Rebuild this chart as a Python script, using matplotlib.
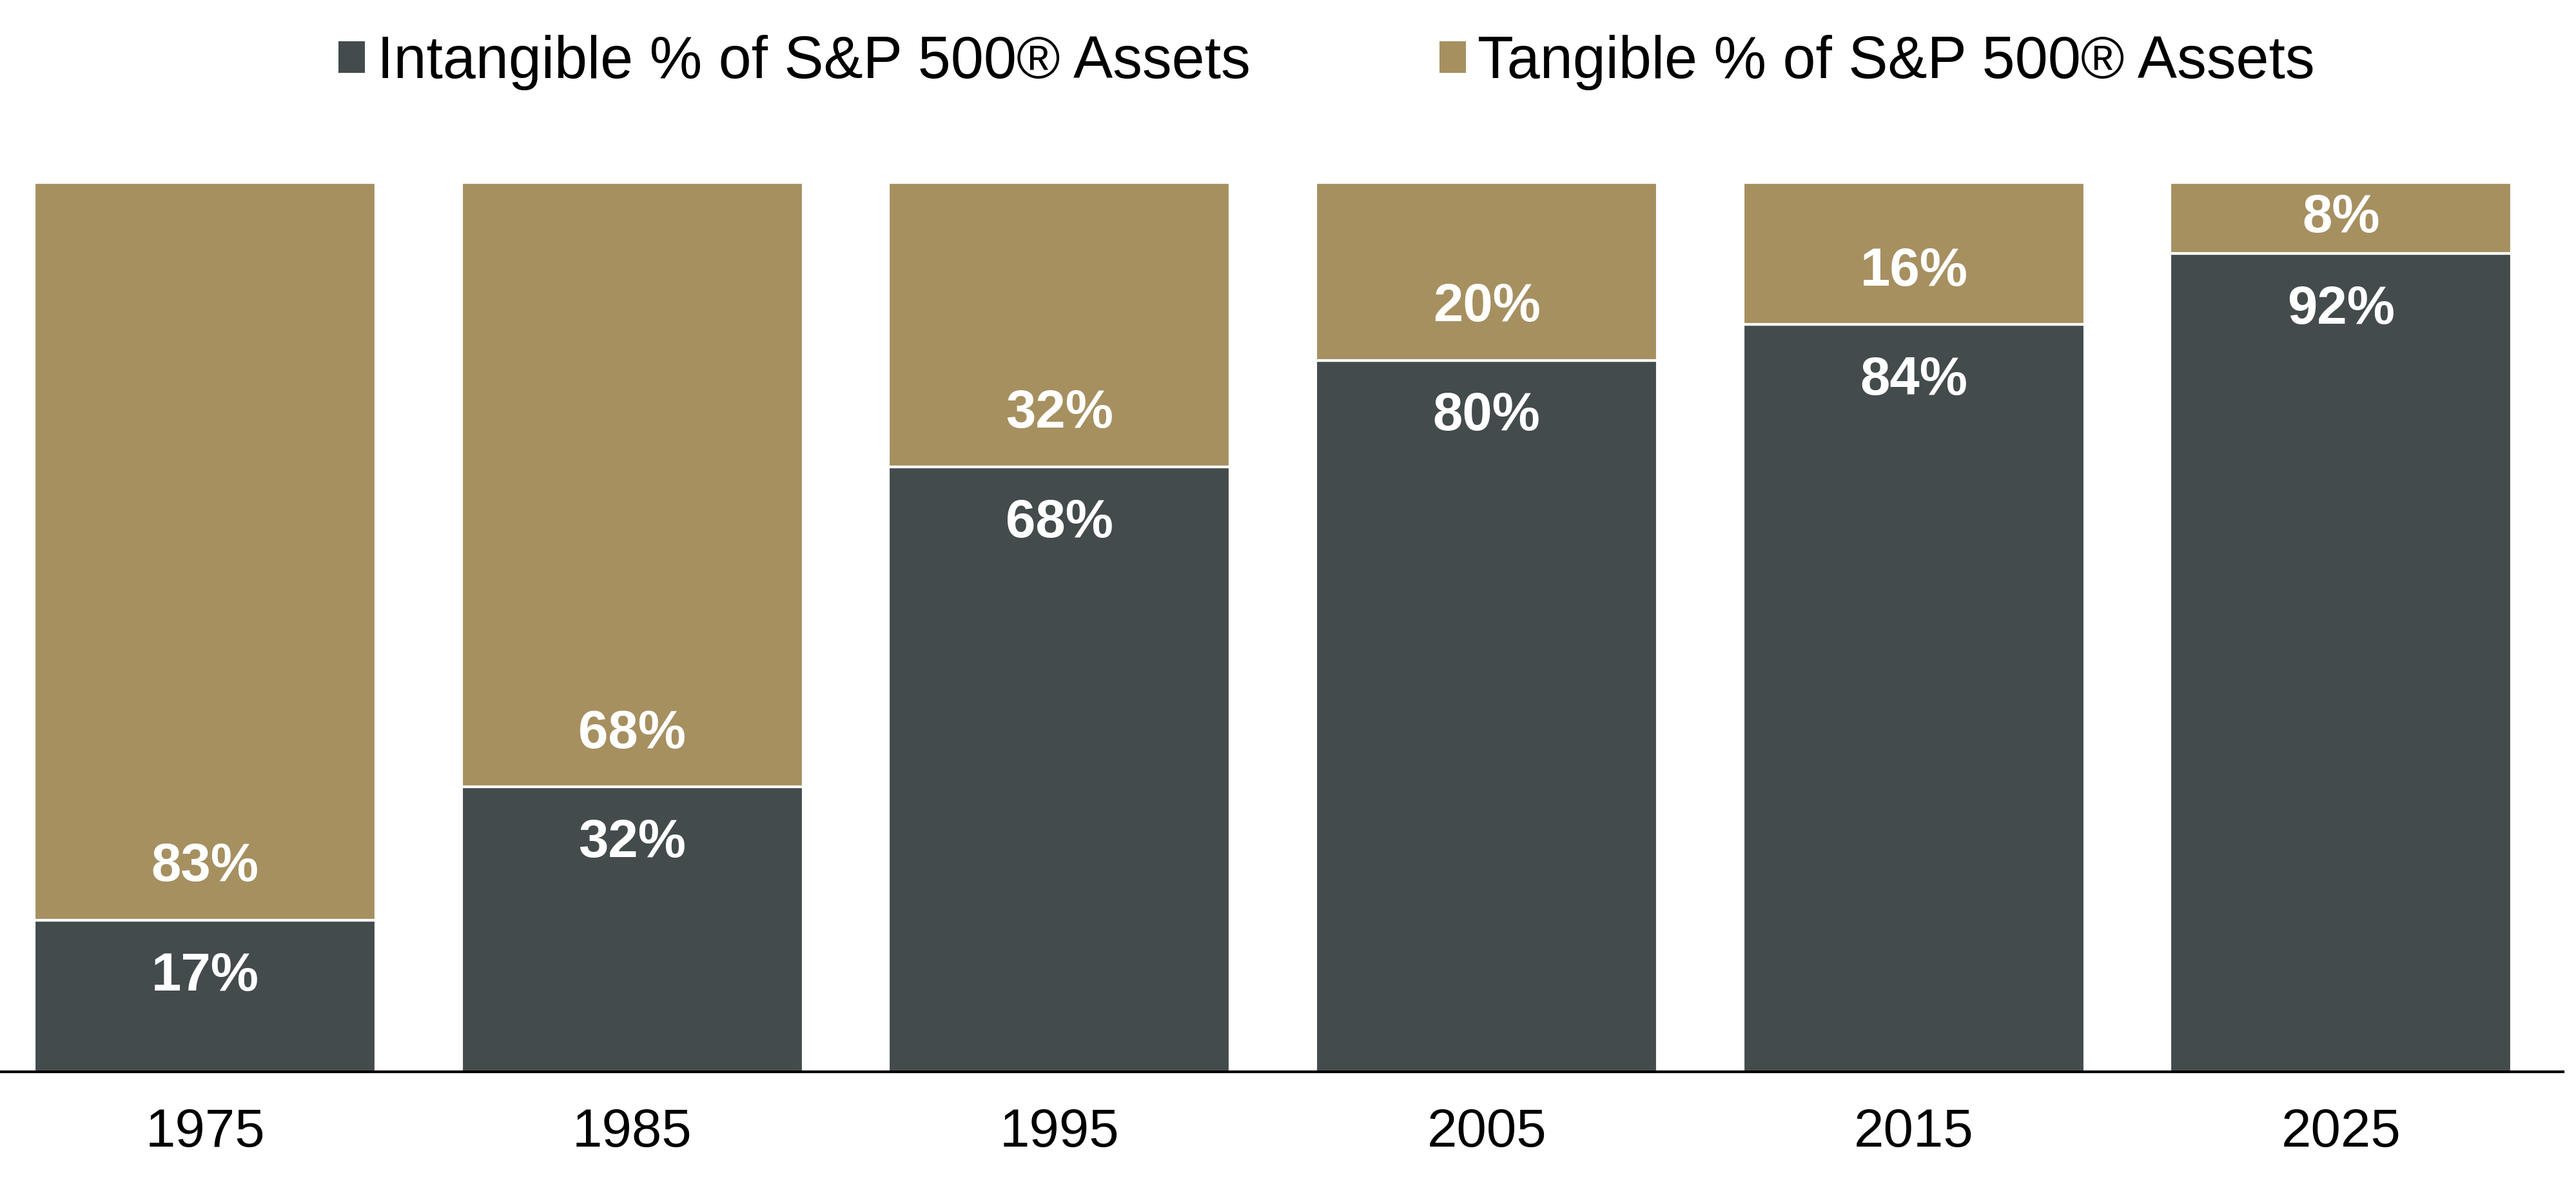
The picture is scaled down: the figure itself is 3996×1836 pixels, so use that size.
import numpy as np
import matplotlib.pyplot as plt
from matplotlib.patches import Patch

plt.rcParams['font.family'] = ['Liberation Sans', 'DejaVu Sans']

years = ["1975", "1985", "1995", "2005", "2015", "2025"]
intangible = [17, 32, 68, 80, 84, 92]
tangible = [83, 68, 32, 20, 16, 8]

dark = "#434B4D"
tan = "#A69060"

fig = plt.figure(figsize=(39.96, 18.36), dpi=100)
ax = fig.add_axes([0.0, 0.095, 0.995, 0.751])
x = np.arange(len(years))
ax.bar(x, intangible, width=0.8, color=dark, edgecolor="white", linewidth=3)
ax.bar(x, tangible, width=0.8, bottom=intangible, color=tan, edgecolor="white", linewidth=3)

for i in range(len(years)):
    b = intangible[i]
    ax.text(x[i], b - 6.3, "%d%%" % intangible[i], ha="center", va="center",
            color="white", fontsize=60, fontweight="bold")
    yt = min(b + 6.0, b + tangible[i] / 2)
    ax.text(x[i], yt, "%d%%" % tangible[i], ha="center", va="center",
            color="white", fontsize=60, fontweight="bold")

ax.set_xlim(-0.48, 5.52)
ax.set_ylim(0, 100)
ax.set_xticks(x)
ax.set_xticklabels(years, fontsize=60)
ax.tick_params(axis="x", length=0, pad=40)
ax.set_yticks([])
for s in ["top", "right", "left"]:
    ax.spines[s].set_visible(False)
ax.spines["bottom"].set_linewidth(3)
ax.spines["bottom"].set_color("black")

handles = [Patch(facecolor=dark, label="Intangible % of S&P 500® Assets"),
           Patch(facecolor=tan, label="Tangible % of S&P 500® Assets")]
fig.legend(handles=handles, loc="center", bbox_to_anchor=(0.515, 0.947), ncol=2,
           frameon=False, fontsize=66, handlelength=0.45, handleheight=0.45,
           handletextpad=0.2, columnspacing=3.2)

fig.savefig("out.png", dpi=100)
